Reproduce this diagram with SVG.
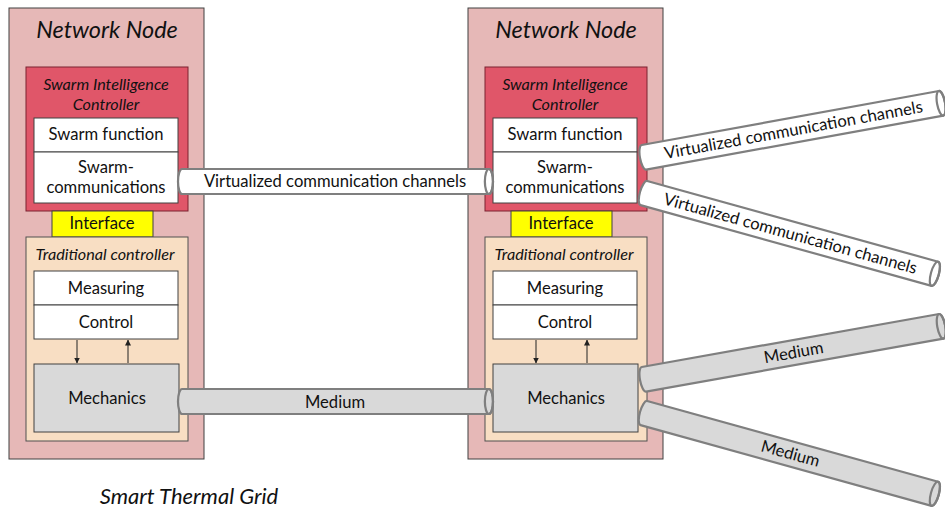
<svg xmlns="http://www.w3.org/2000/svg" width="945" height="511" viewBox="0 0 945 511">
<style>
text{font-family:Lato,"Open Sans","Liberation Sans",sans-serif;fill:#111;text-anchor:middle}
.it{font-style:italic}
.outer{fill:#E6B8B7;stroke:#404040;stroke-width:1}
.sic{fill:#E05669;stroke:#7A2230;stroke-width:1}
.wb{fill:#fff;stroke:#404040;stroke-width:1}
.ifc{fill:#FFFF00;stroke:#404040;stroke-width:1}
.trad{fill:#F8DEC3;stroke:#505050;stroke-width:1}
.mech{fill:#D9D9D9;stroke:#404040;stroke-width:1}
.tw{fill:#fff;stroke:#7F7F7F;stroke-width:2.2}
.tg{fill:#D9D9D9;stroke:#7F7F7F;stroke-width:2.2}
.cap{fill:none;stroke:#7F7F7F;stroke-width:2.2}
.ar{stroke:#222;stroke-width:1;fill:none;marker-end:url(#ah)}
.t15{font-size:16.6px}
.t14{font-size:16.2px}
</style>
<defs>
<marker id="ah" viewBox="0 0 6 6" refX="5.5" refY="3" markerWidth="6" markerHeight="6" orient="auto" markerUnits="userSpaceOnUse">
<path d="M0,0 L6,3 L0,6 Z" fill="#222"/>
</marker>
<path id="tube" d="M4,-12.5 H306 A4,12.5 0 0 1 306,12.5 H4 A4,12.5 0 0 1 4,-12.5 Z"/>
</defs>

<g id="node-left">
<rect class="outer" x="9" y="8" width="195" height="451"/>
<text class="it" x="107" y="38" font-size="23.5">Network Node</text>
<rect class="sic" x="26" y="67" width="162" height="144"/>
<text class="it t14" x="106" y="90">Swarm Intelligence</text>
<text class="it t14" x="106" y="110">Controller</text>
<rect class="wb" x="34" y="118" width="144" height="34"/>
<rect class="wb" x="34" y="152" width="144" height="51"/>
<text class="t15" x="106" y="140">Swarm function</text>
<text class="t15" x="106" y="173">Swarm-</text>
<text class="t15" x="106" y="193">communications</text>
<rect class="ifc" x="52" y="211" width="101" height="26"/>
<text class="t15" x="102" y="229">Interface</text>
<rect class="trad" x="26" y="237" width="162" height="204"/>
<text class="it t14" x="105" y="260">Traditional controller</text>
<rect class="wb" x="34" y="271" width="144" height="34"/>
<rect class="wb" x="34" y="305" width="144" height="34"/>
<text class="t15" x="106" y="294">Measuring</text>
<text class="t15" x="106" y="328">Control</text>
<rect class="mech" x="34" y="364" width="145" height="68"/>
<text class="t15" x="107" y="404">Mechanics</text>
<line class="ar" x1="77" y1="340" x2="77" y2="363"/>
<line class="ar" x1="128" y1="363" x2="128" y2="340"/>
</g>

<g id="node-right" transform="translate(459,0)">
<rect class="outer" x="9" y="8" width="195" height="451"/>
<text class="it" x="107" y="38" font-size="23.5">Network Node</text>
<rect class="sic" x="26" y="67" width="162" height="144"/>
<text class="it t14" x="106" y="90">Swarm Intelligence</text>
<text class="it t14" x="106" y="110">Controller</text>
<rect class="wb" x="34" y="118" width="144" height="34"/>
<rect class="wb" x="34" y="152" width="144" height="51"/>
<text class="t15" x="106" y="140">Swarm function</text>
<text class="t15" x="106" y="173">Swarm-</text>
<text class="t15" x="106" y="193">communications</text>
<rect class="ifc" x="52" y="211" width="101" height="26"/>
<text class="t15" x="102" y="229">Interface</text>
<rect class="trad" x="26" y="237" width="162" height="204"/>
<text class="it t14" x="105" y="260">Traditional controller</text>
<rect class="wb" x="34" y="271" width="144" height="34"/>
<rect class="wb" x="34" y="305" width="144" height="34"/>
<text class="t15" x="106" y="294">Measuring</text>
<text class="t15" x="106" y="328">Control</text>
<rect class="mech" x="34" y="364" width="145" height="68"/>
<text class="t15" x="107" y="404">Mechanics</text>
<line class="ar" x1="77" y1="340" x2="77" y2="363"/>
<line class="ar" x1="128" y1="363" x2="128" y2="340"/>
</g>

<g id="connectors">
<g transform="translate(178,181.5) scale(1.0161,1)">
<use href="#tube" class="tw"/>
<ellipse class="cap" cx="306" cy="0" rx="4" ry="12.5"/>
</g>
<text class="t15" x="335" y="187">Virtualized communication channels</text>

<g transform="translate(178,401.5) scale(1.0161,1)">
<use href="#tube" class="tg"/>
<ellipse class="cap" cx="306" cy="0" rx="4" ry="12.5"/>
</g>
<text class="t15" x="335" y="408">Medium</text>

<g transform="translate(640,158) rotate(-10.3)">
<use href="#tube" class="tw"/>
<ellipse class="cap" cx="306" cy="0" rx="4" ry="12.5"/>
<text class="t15" x="156" y="5.5">Virtualized communication channels</text>
</g>
<g transform="translate(640,192) rotate(15.5)">
<use href="#tube" class="tw"/>
<ellipse class="cap" cx="306" cy="0" rx="4" ry="12.5"/>
<text class="t15" x="156" y="5.5">Virtualized communication channels</text>
</g>
<g transform="translate(640,380) rotate(-10.1)">
<use href="#tube" class="tg"/>
<ellipse class="cap" cx="306" cy="0" rx="4" ry="12.5"/>
<text class="t15" x="156" y="5.5">Medium</text>
</g>
<g transform="translate(640,412) rotate(15.5)">
<use href="#tube" class="tg"/>
<ellipse class="cap" cx="306" cy="0" rx="4" ry="12.5"/>
<text class="t15" x="156" y="5.5">Medium</text>
</g>
</g>

<text class="it" x="189" y="504" font-size="22">Smart Thermal Grid</text>
</svg>
